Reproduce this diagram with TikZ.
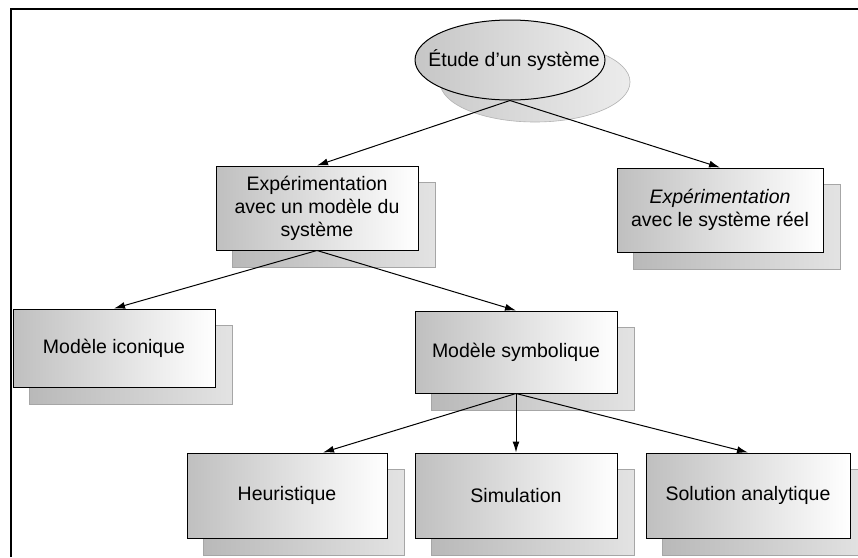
\documentclass[tikz,border=0pt]{standalone}
\usepackage{fontspec}
\setmainfont{Liberation Sans}
\usetikzlibrary{shapes.geometric,arrows.meta,backgrounds}
\begin{document}
\begin{tikzpicture}[x=1pt,y=-1pt,
  every node/.style={font=\fontsize{19.5}{23}\selectfont},
  boxnode/.style={draw=black, line width=1pt, rectangle, inner sep=0pt, align=center,
    left color=gray!50, right color=white},
  shadowbox/.style={draw=gray!70, line width=0.6pt, left color=gray!55, right color=gray!22},
  shadowell/.style={draw=gray!60, line width=0.6pt, left color=gray!40, right color=gray!15},
  link/.style={draw=black, line width=1pt, -{Latex[length=11pt,width=7pt]}}
]
\useasboundingbox (0,0) rectangle (858,557);

% frame (top and left edges)
\coordinate (fr1) at (11,557);
\coordinate (fr2) at (11,9);
\coordinate (fr3) at (858,9);
\draw[line width=1.8pt] (fr1) -- (fr2) -- (fr3);

% root ellipse
\node[ellipse, draw=black, line width=1pt, minimum width=190pt, minimum height=80pt,
  inner sep=0pt, left color=gray!45, right color=gray!15] (etude) at (510,60)
  {\makebox[0pt]{\hspace{8pt}Étude d’un système}};

% boxes
\node[boxnode, minimum width=202pt, minimum height=84pt] (A) at (317,208)
  {Expérimentation\\avec un modèle du\\système};
\node[boxnode, minimum width=206pt, minimum height=84pt] (B) at (720,210)
  {{\itshape Expérimentation}\\avec le système réel};
\node[boxnode, minimum width=202pt, minimum height=78pt] (C) at (114,348)
  {Modèle iconique};
\node[boxnode, minimum width=202pt, minimum height=82pt] (D) at (516,352)
  {Modèle symbolique};
\node[boxnode, minimum width=200pt, minimum height=85pt] (E) at (287,495.5)
  {Heuristique};
\node[boxnode, minimum width=202pt, minimum height=85pt] (F) at (516,495.5)
  {Simulation};
\node[boxnode, minimum width=204pt, minimum height=85pt] (G) at (748,495.5)
  {Solution analytique};

% shadows
\begin{scope}[on background layer]
  \fill[white] (0,0) rectangle (858,557);
  \path[shadowell] ([shift={(25,22)}]etude.center) ellipse [x radius=95, y radius=40];
  \foreach \n in {A,B,C,D,E,F,G}
    \path[shadowbox] ([shift={(17,17)}]\n.north west) rectangle ([shift={(17,17)}]\n.south east);
\end{scope}

% connectors
\draw[link] (etude.south) -- (A.north);
\draw[link] (etude.south) -- (B.north);
\draw[link] (A.south) -- (C.north);
\draw[link] (A.south) -- (D.north);
\draw[link] (D.south) -- ([xshift=36pt]E.north);
\draw[link] (D.south) -- (F.north);
\draw[link] (D.south) -- (G.north);
\end{tikzpicture}
\end{document}
